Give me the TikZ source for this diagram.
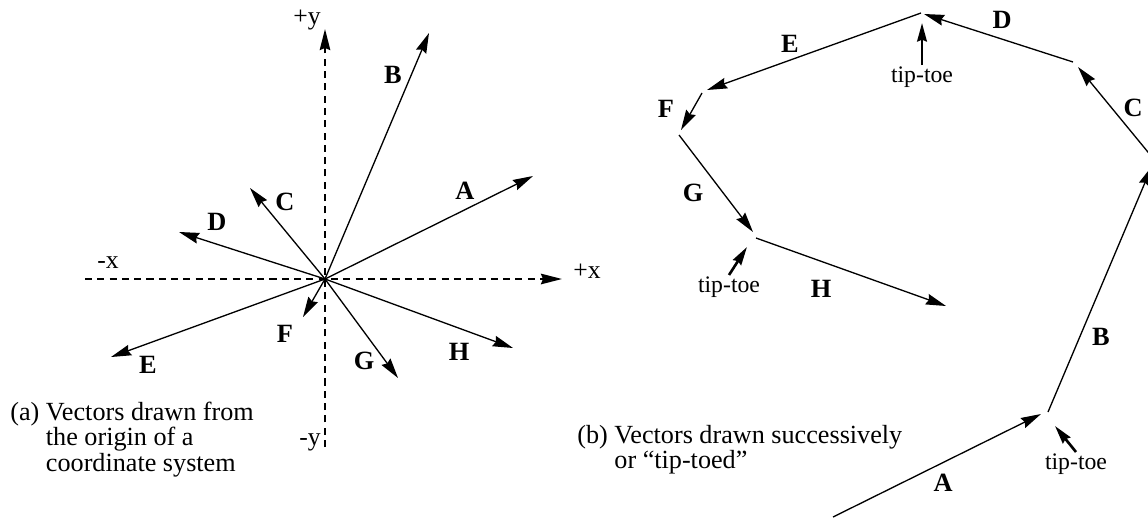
\documentclass[tikz,border=0pt]{standalone}
\usepackage{fontspec}
\setmainfont{Liberation Serif}
\usetikzlibrary{arrows.meta,positioning}
\tikzset{
  vec/.style={-{Stealth[length=11.5pt, width=6.2pt, inset=1.2pt]}, line width=0.75pt},
  axline/.style={-{Stealth[length=12pt, width=6pt, inset=1.2pt]}, line width=1.1pt, dash pattern=on 4pt off 3pt},
  tiparr/.style={-{Stealth[length=10.5pt, width=5.5pt, inset=1pt]}, line width=1.5pt},
  lbl/.style={font=\fontsize{15}{15}\selectfont\bfseries, inner sep=0pt},
  axlbl/.style={font=\fontsize{14.6}{15}\selectfont, inner sep=0pt},
  tiplbl/.style={font=\fontsize{13.5}{14}\selectfont, inner sep=1pt, anchor=north},
  capt/.style={font=\fontsize{14.9}{14.2}\selectfont, inner sep=0pt, anchor=base west},
}
\begin{document}
\begin{tikzpicture}[x=0.02cm, y=-0.02cm]
\useasboundingbox (0,0) rectangle (1148,518);

% (a) vectors from the origin
\coordinate (O) at (325,279);
\coordinate (xneg) at (85,279);
\coordinate (xpos) at (562,279);
\coordinate (yneg) at (325,447);
\coordinate (ypos) at (325,29);
\draw[axline] (xneg) -- (xpos);
\draw[axline] (yneg) -- (ypos);

\node[axlbl] (lxneg) at (108,263) {-x};
\node[axlbl] (lxpos) at (587,271) {+x};
\node[axlbl] (lypos) at (307,20) {+y};
\node[axlbl] (lyneg) at (310,442) {-y};

\coordinate (oA) at (533,176);
\coordinate (oB) at (429,33);
\coordinate (oC) at (250,188);
\coordinate (oD) at (179,232);
\coordinate (oE) at (111,357);
\coordinate (oF) at (303,317);
\coordinate (oG) at (398,378);
\coordinate (oH) at (513,348);
\draw[vec] (O) -- (oA);
\draw[vec] (O) -- (oB);
\draw[vec] (O) -- (oC);
\draw[vec] (O) -- (oD);
\draw[vec] (O) -- (oE);
\draw[vec] (O) -- (oF);
\draw[vec] (O) -- (oG);
\draw[vec] (O) -- (oH);

\node[lbl] (labAo) at (465,191) {A};
\node[lbl] (labBo) at (393,75) {B};
\node[lbl] (labCo) at (285,202) {C};
\node[lbl] (labDo) at (217,222) {D};
\node[lbl] (labEo) at (148,365) {E};
\node[lbl] (labFo) at (285,334) {F};
\node[lbl] (labGo) at (364,361) {G};
\node[lbl] (labHo) at (459,352) {H};

\node[capt] (capa) at (10,420)
  {\begin{tabular}[t]{@{}l@{ }l@{}}(a)&Vectors drawn from\\&the origin of a\\&coordinate system\end{tabular}};

% (b) vectors drawn tip to toe
\coordinate (sA) at (833,517);  \coordinate (eA) at (1041,414);
\coordinate (sB) at (1048,412); \coordinate (eB) at (1152,166);
\coordinate (sC) at (1152,157); \coordinate (eC) at (1078,67);
\coordinate (sD) at (1073,62);  \coordinate (eD) at (924,14);
\coordinate (sE) at (921,13);   \coordinate (eE) at (707,90);
\coordinate (sF) at (702,93);   \coordinate (eF) at (681,130);
\coordinate (sG) at (679,135);  \coordinate (eG) at (753,232);
\coordinate (sH) at (756,238);  \coordinate (eH) at (946,306);
\draw[vec] (sA) -- (eA);
\draw[vec] (sB) -- (eB);
\draw[vec] (sC) -- (eC);
\draw[vec] (sD) -- (eD);
\draw[vec] (sE) -- (eE);
\draw[vec] (sF) -- (eF);
\draw[vec] (sG) -- (eG);
\draw[vec] (sH) -- (eH);

\node[lbl] (labAt) at (943,483) {A};
\node[lbl] (labBt) at (1101,337) {B};
\node[lbl] (labCt) at (1133,108) {C};
\node[lbl] (labDt) at (1002,20) {D};
\node[lbl] (labEt) at (790,44) {E};
\node[lbl] (labFt) at (666,109) {F};
\node[lbl] (labGt) at (693,193) {G};
\node[lbl] (labHt) at (821,289) {H};

% tip-toe markers
\node[tiplbl] (ttTop) at (922,65) {tip-toe};
\coordinate (ttTopTip) at (922,23);
\draw[tiparr] (ttTop.north) -- (ttTopTip);

\node[tiplbl] (ttLeft) at (729,275) {tip-toe};
\coordinate (ttLeftTip) at (747,247);
\draw[tiparr] (ttLeft.north) -- (ttLeftTip);

\node[tiplbl] (ttRight) at (1076,452) {tip-toe};
\coordinate (ttRightTip) at (1055,426);
\draw[tiparr] (ttRight.north) -- (ttRightTip);

\node[capt] (capb) at (577,443)
  {\begin{tabular}[t]{@{}l@{ }l@{}}(b)&Vectors drawn successively\\&or “tip-toed”\end{tabular}};

\end{tikzpicture}
\end{document}
